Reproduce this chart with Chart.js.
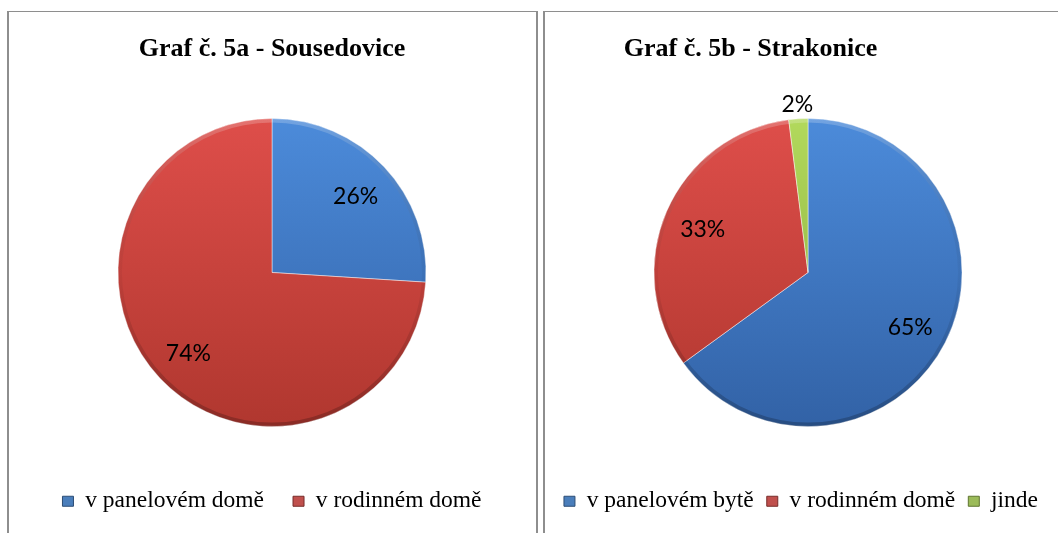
<!DOCTYPE html>
<html><head><meta charset="utf-8">
<script src="https://cdn.jsdelivr.net/npm/chart.js@4.4.1/dist/chart.umd.min.js"></script>
<style>
html,body{margin:0;padding:0;background:#fff;}
body{width:1058px;height:533px;overflow:hidden;position:relative;}
.panel{position:absolute;top:11px;height:600px;box-sizing:border-box;border-top:1px solid #8e8e8e;border-left:2px solid #8e8e8e;border-right:2px solid #8e8e8e;pointer-events:none;}
.wrap{position:absolute;top:12px;width:530px;height:511px;}
canvas{display:block;}
</style></head><body>
<div class="wrap" style="left:7px"><canvas id="c1" width="530" height="511"></canvas></div>
<div class="wrap" style="left:543px"><canvas id="c2" width="530" height="511"></canvas></div>
<div class="panel" style="left:7px;width:531px"></div>
<div class="panel" style="left:543px;width:600px"></div>
<script>
// ---- data ----
const titleA = 'Graf č. 5a - Sousedovice';
const categoriesA = ['v panelovém domě', 'v rodinném domě'];
const valuesA = [26, 74];

const titleB = 'Graf č. 5b - Strakonice';
const categoriesB = ['v panelovém bytě', 'v rodinném domě', 'jinde'];
const valuesB = [65, 33, 2];

// ---- styles ----
const sliceTop = ['#4c8bda', '#de4e4a', '#b2d95c'];
const sliceBottom = ['#3262a6', '#b0372f', '#86a83a'];
const legendFill = ['#4a7ebb', '#c0504d', '#9bbb59'];
const legendStroke = ['#2c4d75', '#772c2a', '#5f7530'];
const R = 154;

function sliceFill(ctx) {
  const chart = ctx.chart;
  const a = chart.chartArea;
  const i = ctx.dataIndex || 0;
  if (!a) return legendFill[i];
  const cy = (a.top + a.bottom) / 2;
  const g = chart.ctx.createLinearGradient(0, cy - R, 0, cy + R);
  g.addColorStop(0, sliceTop[i]);
  g.addColorStop(1, sliceBottom[i]);
  return g;
}

// soft bevel rim + percentage labels
const pctLabels = {
  id: 'pctLabels',
  afterDatasetsDraw(chart) {
    const ctx = chart.ctx;
    const meta = chart.getDatasetMeta(0);
    const data = chart.data.datasets[0].data;
    const first = meta.data[0];
    if (!first) return;
    const c = first.getProps(['x', 'y', 'outerRadius'], true);
    ctx.save();
    const rim = ctx.createLinearGradient(0, c.y - c.outerRadius, 0, c.y + c.outerRadius);
    rim.addColorStop(0, 'rgba(255,255,255,0.22)');
    rim.addColorStop(0.5, 'rgba(0,0,0,0.04)');
    rim.addColorStop(1, 'rgba(0,0,0,0.22)');
    ctx.strokeStyle = rim;
    ctx.lineWidth = 4;
    ctx.beginPath();
    ctx.arc(c.x, c.y, c.outerRadius - 2, 0, Math.PI * 2);
    ctx.stroke();
    ctx.restore();

    ctx.save();
    ctx.font = '23px Lato';
    ctx.fillStyle = '#000';
    ctx.textAlign = 'center';
    ctx.textBaseline = 'middle';
    meta.data.forEach((arc, i) => {
      const p = arc.getProps(['x', 'y', 'startAngle', 'endAngle', 'outerRadius'], true);
      const mid = (p.startAngle + p.endAngle) / 2;
      const r = data[i] < 5 ? p.outerRadius + 17 : p.outerRadius * 0.745;
      ctx.fillText(data[i] + '%', p.x + Math.cos(mid) * r, p.y + Math.sin(mid) * r + 3);
    });
    ctx.restore();
  }
};

const boxShift = {
  id: 'boxShift',
  afterLayout(chart, args, opts) {
    const t = chart.titleBlock;
    const l = chart.legend;
    if (t && opts.titleDx) { t.left += opts.titleDx; t.right += opts.titleDx; }
    if (l && opts.legendDx) { l.left += opts.legendDx; l.right += opts.legendDx; }
  }
};

function makeChart(id, title, labels, values, legendPad, titlePadBottom, titleDx, legendDx) {
  return new Chart(document.getElementById(id), {
    type: 'pie',
    data: {
      labels: labels,
      datasets: [{
        data: values,
        backgroundColor: sliceFill,
        borderColor: 'rgba(255,255,255,0.45)',
        borderWidth: 1,
        radius: R,
        hoverOffset: 0,
        offset: 0
      }]
    },
    options: {
      responsive: false,
      animation: false,
      events: [],
      layout: { padding: 0 },
      plugins: {
        tooltip: { enabled: false },
        title: {
          display: true,
          text: title,
          color: '#000',
          font: { family: 'Liberation Serif', size: 26, weight: 'bold', lineHeight: 1 },
          padding: { top: 24.7, bottom: titlePadBottom }
        },
        legend: {
          position: 'bottom',
          labels: {
            color: '#000',
            font: { family: 'Liberation Serif', size: 23.5 },
            boxWidth: 11,
            boxHeight: 10,
            padding: legendPad,
            generateLabels(chart) {
              return chart.data.labels.map((t, i) => ({
                text: t, fillStyle: legendFill[i], strokeStyle: legendStroke[i],
                lineWidth: 1, hidden: false, index: i
              }));
            }
          }
        },
        boxShift: { titleDx: titleDx, legendDx: legendDx }
      }
    },
    plugins: [pctLabels, boxShift]
  });
}

makeChart('c1', titleA, categoriesA, valuesA, 29, 21.8, 0, 0);
makeChart('c2', titleB, categoriesB, valuesB, 13, 5.8, -57.5, -7);
</script>
</body></html>
